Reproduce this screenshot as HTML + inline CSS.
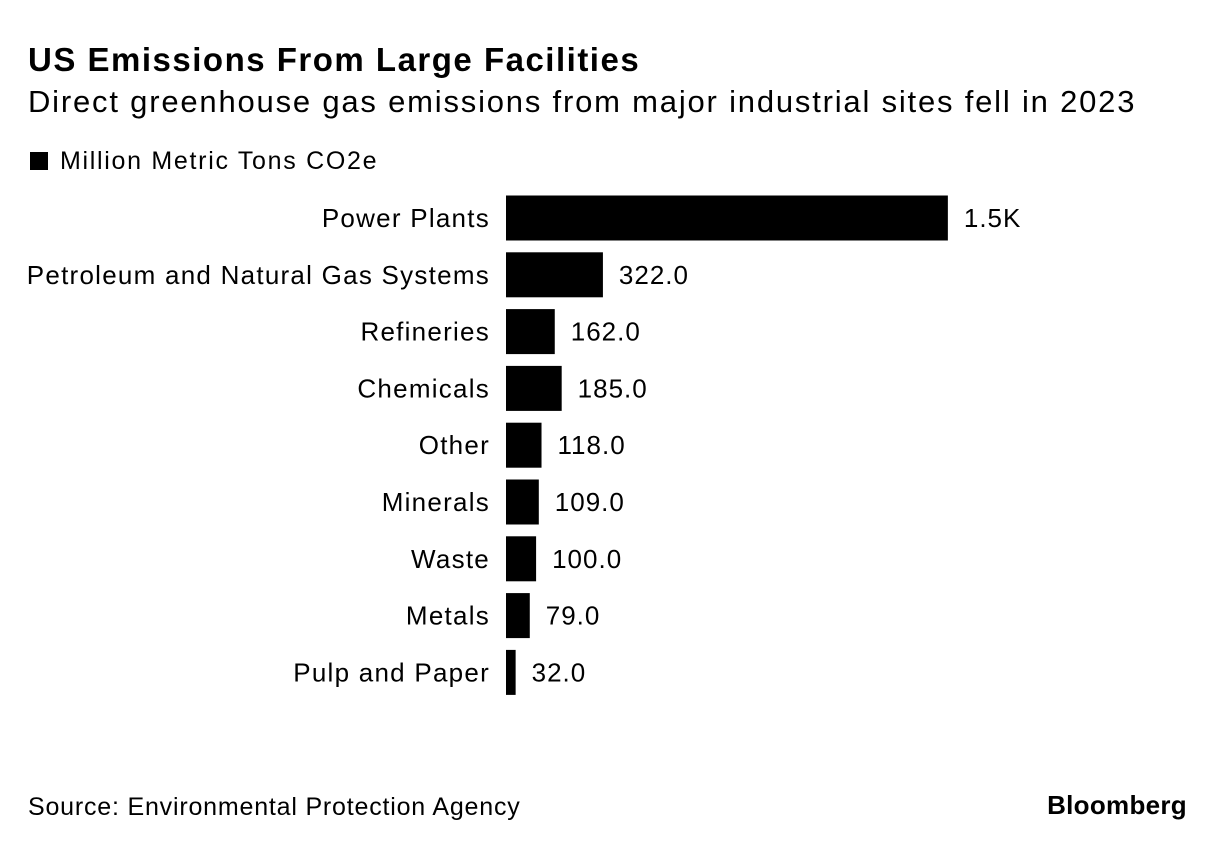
<!DOCTYPE html>
<html><head><meta charset="utf-8"><style>
body{margin:0;width:1225px;height:850px;background:#fff;font-family:"Liberation Sans",Arial,sans-serif;color:#000;position:relative;overflow:hidden}
.t{position:absolute;white-space:nowrap}
</style></head><body>
<div class="t" style="left:28px;top:41px;font-size:33px;font-weight:bold;letter-spacing:1.5px">US Emissions From Large Facilities</div>
<div class="t" style="left:28px;top:84px;font-size:31px;letter-spacing:1.8px">Direct greenhouse gas emissions from major industrial sites fell in 2023</div>
<div class="t" style="left:30px;top:147px;font-size:25px;letter-spacing:1.7px"><span style="display:inline-block;width:18px;height:18px;background:#000;margin-right:12px;vertical-align:-1px"></span>Million Metric Tons CO2e</div>
<svg id="chart" width="1225" height="850" style="position:absolute;left:0;top:0" font-family="Liberation Sans, Arial, sans-serif"></svg>
<div class="t" style="left:28px;top:793px;font-size:25px;letter-spacing:0.8px">Source: Environmental Protection Agency</div>
<div class="t" style="right:38px;top:790px;font-size:26px;font-weight:bold;letter-spacing:0.3px">Bloomberg</div>
<script>
const categories=["Power Plants","Petroleum and Natural Gas Systems","Refineries","Chemicals","Other","Minerals","Waste","Metals","Pulp and Paper"];
const values=[1468,322,162,185,118,109,100,79,32];
const valueLabels=["1.5K","322.0","162.0","185.0","118.0","109.0","100.0","79.0","32.0"];
const svg=document.getElementById('chart');
const NS="http://www.w3.org/2000/svg";
const x0=506,scale=0.301,y0=218,step=56.8,bh=45;
const xs=v=>v*scale;
const yc=i=>y0+i*step;
categories.forEach((c,i)=>{
  const r=document.createElementNS(NS,'rect');
  r.setAttribute('x',x0);r.setAttribute('y',yc(i)-bh/2);
  r.setAttribute('width',xs(values[i]));r.setAttribute('height',bh);r.setAttribute('fill','#000');
  
  
  svg.appendChild(r);
  const l=document.createElementNS(NS,'text');
  l.setAttribute('x',490);l.setAttribute('y',yc(i)+9);l.setAttribute('text-anchor','end');l.setAttribute('font-size','26');l.setAttribute('letter-spacing','1.25');
  l.textContent=c;
  
  
  svg.appendChild(l);
  const v=document.createElementNS(NS,'text');
  v.setAttribute('x',x0+xs(values[i])+16);v.setAttribute('y',yc(i)+9);v.setAttribute('font-size','26');v.setAttribute('letter-spacing','1');
  v.textContent=valueLabels[i];
  
  
  svg.appendChild(v);
});
</script>
</body></html>
